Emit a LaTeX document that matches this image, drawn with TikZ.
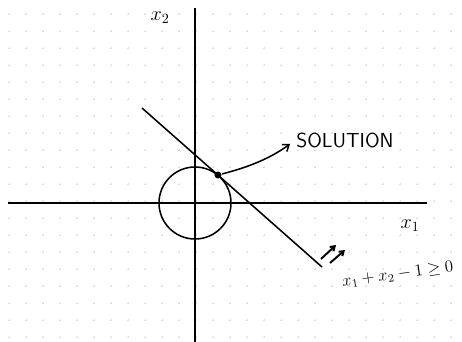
\documentclass[tikz,border=0pt]{standalone}
\usepackage{amsmath}
\usepackage{amssymb}
\usetikzlibrary{positioning,arrows.meta}

\begin{document}
\begin{tikzpicture}[x=0.025cm, y=-0.025cm, line width=1.1pt,
    lbl/.style={font=\large, inner sep=1pt},
    hatch/.style={-{Straight Barb[length=3pt,width=4pt]}, line width=1.4pt}]
    \useasboundingbox (0,0) rectangle (462,342);
    \foreach \i in {0,...,26} \foreach \j in {0,...,19}
        \draw[gray!25, line width=0.3pt] (8+17*\i,14+17*\j) -- ++(2,0) (9+17*\i,13+17*\j) -- ++(0,2);
    \coordinate (xl) at (8,203);
    \coordinate (xr) at (427,203);
    \coordinate (yt) at (195,8);
    \coordinate (yb) at (195,342);
    \draw (xl) -- (xr);
    \draw (yt) -- (yb);
    \node[circle, draw, minimum size=1.8cm, inner sep=0pt] (unit) at (195,203) {};
    \coordinate (ls) at (142,108);
    \coordinate (le) at (322,267);
    \draw (ls) -- (le);
    \node[circle, fill, inner sep=0pt, minimum size=5pt] (sol) at (218,175) {};
    \node[lbl, font=\Large\sffamily] (soltext) at (345,140) {SOLUTION};
    \coordinate (tip) at (290,144);
    \draw[-{Straight Barb[length=4pt,width=6pt]}] (sol) .. controls (245,168) and (268,160) .. (tip);
    \node[lbl, font=\Large] (xtwo) at (160,18) {$x_2$};
    \node[lbl, font=\Large] (xone) at (410,226) {$x_1$};
    \coordinate (ha) at (321,259);
    \coordinate (hb) at (330,263);
    \draw[hatch] (ha) -- ++(15,-14);
    \draw[hatch] (hb) -- ++(15,-13);
    \node[lbl, rotate=8, below right=5pt and 12pt of le] (ineq) {$x_1+x_2-1\geq 0$};
\end{tikzpicture}
\end{document}
